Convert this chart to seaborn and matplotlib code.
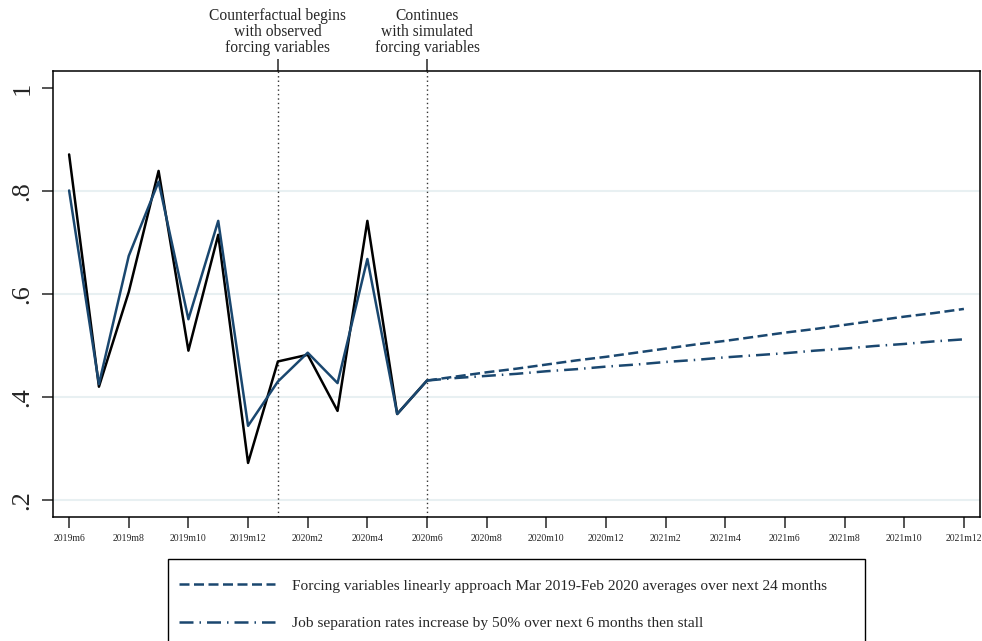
import numpy as np
import pandas as pd
import matplotlib
matplotlib.use("Agg")
import matplotlib.pyplot as plt
from matplotlib.lines import Line2D
from matplotlib.patches import Rectangle
import seaborn as sns

# ---- data -------------------------------------------------------------
tick_labels = ["2019m6", "2019m8", "2019m10", "2019m12", "2020m2", "2020m4",
               "2020m6", "2020m8", "2020m10", "2020m12", "2021m2", "2021m4",
               "2021m6", "2021m8", "2021m10", "2021m12"]

# monthly index, 0 = 2019m6
hist_months = list(range(0, 13))           # 2019m6 .. 2020m6
proj_months = list(range(12, 31))          # 2020m6 .. 2021m12

observed = [0.871, 0.420, 0.604, 0.839, 0.490, 0.715, 0.272,
            0.469, 0.482, 0.373, 0.742, 0.367, 0.432]
fitted = [0.801, 0.425, 0.674, 0.818, 0.551, 0.742, 0.344,
          0.430, 0.486, 0.427, 0.668, 0.367, 0.432]

proj_linear = [0.432, 0.440, 0.448, 0.455, 0.463, 0.471, 0.478, 0.486,
               0.494, 0.502, 0.509, 0.517, 0.525, 0.532, 0.540, 0.548,
               0.556, 0.563, 0.571]
proj_jobsep = [0.432, 0.437, 0.441, 0.445, 0.450, 0.454, 0.459, 0.463,
               0.468, 0.472, 0.477, 0.481, 0.485, 0.490, 0.494, 0.499,
               0.503, 0.508, 0.512]

event_months = [7, 12]                     # 2020m1, 2020m6
event_labels = ["Counterfactual begins\nwith observed\nforcing variables",
                "Continues\nwith simulated\nforcing variables"]
legend_labels = ["Forcing variables linearly approach Mar 2019-Feb 2020 averages over next 24 months",
                 "Job separation rates increase by 50% over next 6 months then stall"]

y_ticks = [0.2, 0.4, 0.6, 0.8, 1.0]
y_ticklabels = [".2", ".4", ".6", ".8", "1"]

# ---- style ------------------------------------------------------------
sns.set_theme(style="white")
plt.rcParams["font.family"] = ["Liberation Serif", "DejaVu Serif"]
plt.rcParams["axes.linewidth"] = 1.1

NAVY = "#1a476f"
GRID = "#e8f0f2"

hist = pd.DataFrame({"month": hist_months, "observed": observed, "fitted": fitted})
proj = pd.DataFrame({"month": proj_months, "linear": proj_linear, "jobsep": proj_jobsep})

W, H = 982, 641
fig = plt.figure(figsize=(W / 100, H / 100), dpi=100)
ax = fig.add_axes([53 / W, 1 - 517 / H, (980 - 53) / W, (517 - 71) / H])

for x in event_months:
    ax.axvline(x, color="#333333", lw=1.0, ls=(0, (1, 2.2)), zorder=1)

sns.lineplot(data=hist, x="month", y="observed", color="black", lw=1.8, ax=ax, zorder=3)
sns.lineplot(data=hist, x="month", y="fitted", color=NAVY, lw=1.8, ax=ax, zorder=4)
sns.lineplot(data=proj, x="month", y="linear", color=NAVY, lw=1.8, ax=ax, zorder=4)
ax.lines[-1].set_linestyle((0, (4.0, 1.8)))
sns.lineplot(data=proj, x="month", y="jobsep", color=NAVY, lw=1.8, ax=ax, zorder=4)
ax.lines[-1].set_linestyle((0, (5.6, 2.4, 0.6, 2.4)))

ax.set_xlim(-0.54, 30.54)
ax.set_ylim(0.167, 1.033)
ax.set_xlabel("")
ax.set_ylabel("")

ax.set_xticks(range(0, 31, 2))
ax.set_xticklabels(tick_labels, fontsize=7)
ax.set_yticks(y_ticks)
ax.set_yticklabels(y_ticklabels, fontsize=19, rotation=90, va="center")
ax.tick_params(axis="x", direction="out", length=8, width=1.1, pad=4, bottom=True)
ax.tick_params(axis="y", direction="out", length=8, width=1.1, pad=6, left=True)

ax.yaxis.grid(True, color=GRID, lw=1.5)
ax.xaxis.grid(False)
for gl, t in zip(ax.get_ygridlines(), y_ticks):
    if t >= 1.0:
        gl.set_visible(False)
ax.set_axisbelow(True)

for sp in ax.spines.values():
    sp.set_color("black")
    sp.set_linewidth(1.1)

# event annotations on the top axis
top = ax.secondary_xaxis("top")
top.set_xticks(event_months)
top.set_xticklabels(event_labels, fontsize=11.2, linespacing=1.02)
top.tick_params(axis="x", direction="out", length=9, width=1.1, pad=1.5)
top.spines["top"].set_visible(False)

# legend box (runs past the lower edge of the figure)
fig.patches.append(Rectangle((168 / W, 1 - 680 / H), (865 - 168) / W, (680 - 559) / H,
                             transform=fig.transFigure, fill=False,
                             edgecolor="black", lw=1.0))
handles = [Line2D([], [], color=NAVY, lw=1.8, ls=(0, (4.0, 1.8))),
           Line2D([], [], color=NAVY, lw=1.8, ls=(0, (5.6, 2.4, 0.6, 2.4)))]
leg = fig.legend(handles, legend_labels, loc="upper left",
                 bbox_to_anchor=(179 / W, 1 - 579 / H),
                 fontsize=11.1, handlelength=6.2, handletextpad=1.1,
                 labelspacing=1.55, borderpad=0, borderaxespad=0,
                 frameon=False)

fig.savefig("out.png", dpi=100)
